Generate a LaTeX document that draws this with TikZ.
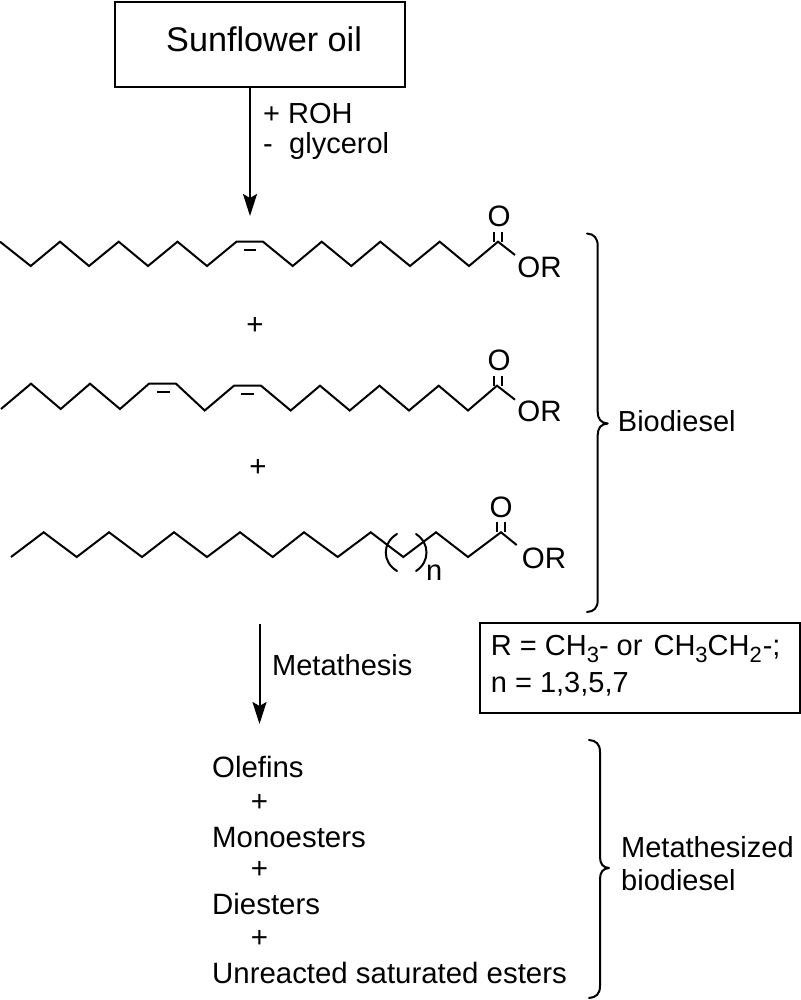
\documentclass[tikz,border=0pt]{standalone}
\usepackage{fontspec}
\setmainfont{Liberation Sans}
\usetikzlibrary{arrows.meta}
\tikzset{
  bond/.style={line width=2pt,line join=miter,line cap=butt},
  bondthin/.style={line width=2pt},
  brk/.style={line width=2pt,line join=round,line cap=round},
  boxed/.style={draw,line width=2pt,inner sep=0pt,anchor=north west},
  lab/.style={inner sep=0pt,anchor=base west,font=\fontsize{29}{33}\selectfont},
  prod/.style={inner sep=0pt,anchor=base west,font=\fontsize{29.4}{33}\selectfont},
  chem/.style={inner sep=0pt,anchor=center,font=\fontsize{29.5}{33}\selectfont},
  flow/.style={line width=2pt,-{Stealth[length=22pt,width=14pt,inset=4pt]}}
}
\newcommand{\subnum}[1]{\raisebox{-6.5pt}{\fontsize{22}{24}\selectfont #1}}
\begin{document}
\begin{tikzpicture}[x=1pt,y=-1pt]
\useasboundingbox (0,0) rectangle (800,1000);
% boxes
\node[boxed,minimum width=290.5pt,minimum height=85pt] (sun) at (113.5,1) {};
\node[inner sep=0pt,anchor=base west,font=\fontsize{34.2}{38}\selectfont] (suntxt) at (166,51.7) {Sunflower oil};
\node[boxed,minimum width=320pt,minimum height=90pt] (rbox) at (479,622) {};
\node[lab] (r1) at (490.7,655.7) {R = CH\subnum{3}- or\hspace{3pt} CH\subnum{3}CH\subnum{2}\hspace{1pt}-;};
\node[lab] (r2) at (490.7,692.7) {n = 1,3,5,7};
% arrow 1
\coordinate (a1) at (250,216);
\draw[flow] (sun.south -| a1) -- (a1);
\node[lab] (roh1) at (263,124) {+ ROH};
\node[lab] (roh2) at (263,154) {-};
\node[lab] (roh3) at (289,154) {glycerol};
% chain 1
\draw[bond] (0,241.7) -- (30.7,266) -- (60,241.7) -- (89,266) -- (118.7,241.7) -- (148,266) -- (177.5,241.7) -- (207,266) -- (236.5,241.7) -- (263,241.7) -- (292.7,266) -- (321.7,241.7) -- (351.3,266) -- (380.3,241.7) -- (410,266) -- (439.7,241.7) -- (469,266) -- (498,241.7) -- (515,255);
\draw[bondthin] (244,250) -- (256,250);
\draw[bondthin] (494.3,232) -- (494.3,241.7);
\draw[bondthin] (502.3,232) -- (502.3,241.7);
\node[chem] (o1) at (499,216) {O};
\node[chem] (or1) at (539.5,267) {OR};
% plus
\node[chem] (p1) at (255,326) {+};
% chain 2
\draw[bond] (1,409) -- (31,383.7) -- (60.7,409) -- (90,383.7) -- (120,409) -- (149,383.7) -- (176,383.7) -- (204.7,410.5) -- (234,385.7) -- (261,385.7) -- (290.7,410.5) -- (320,385.7) -- (349.7,410.5) -- (379.5,385.7) -- (409,410.5) -- (438.7,385.7) -- (468,410.5) -- (497,385.7) -- (515,399.7);
\draw[bondthin] (157,392.3) -- (170,392.3);
\draw[bondthin] (241,394) -- (254,394);
\draw[bondthin] (494,376) -- (494,385.7);
\draw[bondthin] (502,376) -- (502,385.7);
\node[chem] (o2) at (499,360) {O};
\node[chem] (or2) at (539.5,411) {OR};
\node[chem] (p2) at (258,468) {+};
% chain 3
\draw[bond] (11,557) -- (43.7,532.3) -- (76.7,557) -- (109,532.3) -- (142,557) -- (174,532.3) -- (207,557) -- (240,532.3) -- (272.7,557) -- (304,532.3) -- (337.7,557) -- (370.7,532.3) -- (403.3,557) -- (436,532.3) -- (468,557) -- (501,532.3) -- (516.7,545);
\draw[bondthin] (497,522) -- (497,532.3);
\draw[bondthin] (505,522) -- (505,532.3);
\draw[bondthin,line cap=round] (397,534) .. controls (382,543) and (382,562) .. (397,571);
\draw[bondthin,line cap=round] (416,534) .. controls (430,543) and (430,562) .. (416,571);
\node[lab] (nn) at (426,580) {n};
\node[chem] (o3) at (501,507) {O};
\node[chem] (or3) at (544,558) {OR};
% brace 1
\draw[brk] (587,233.5) .. controls (594,234) and (597.7,238) .. (597.7,246) -- (597.7,412) .. controls (597.7,419) and (601,423) .. (607.7,423.5) .. controls (601,424) and (597.7,428) .. (597.7,435) -- (597.7,600) .. controls (597.7,608) and (594,611.5) .. (587,612);
\node[lab] (bio) at (617.7,431) {Biodiesel};
% arrow 2
\coordinate (a2s) at (259.5,624);
\coordinate (a2e) at (259.5,724);
\draw[flow] (a2s) -- (a2e);
\node[lab] (meta) at (272,675) {Metathesis};
% products
\node[prod] (l1) at (212,777) {Olefins};
\node[chem] (l2) at (259.5,802.7) {+};
\node[prod] (l3) at (212,847) {Monoesters};
\node[chem] (l4) at (259.5,870) {+};
\node[prod] (l5) at (212,914) {Diesters};
\node[chem] (l6) at (259.5,939) {+};
\node[prod] (l7) at (212,983) {Unreacted saturated esters};
% brace 2
\draw[brk] (589,740) .. controls (596,740.5) and (600,744) .. (600,752) -- (600,857) .. controls (600,864) and (603,867.5) .. (609,868) .. controls (603,868.5) and (600,872) .. (600,879) -- (600,986) .. controls (600,994) and (596,997.5) .. (589,998);
\node[lab] (m1) at (621,857) {Metathesized};
\node[lab] (m2) at (621,890) {biodiesel};
\end{tikzpicture}
\end{document}
